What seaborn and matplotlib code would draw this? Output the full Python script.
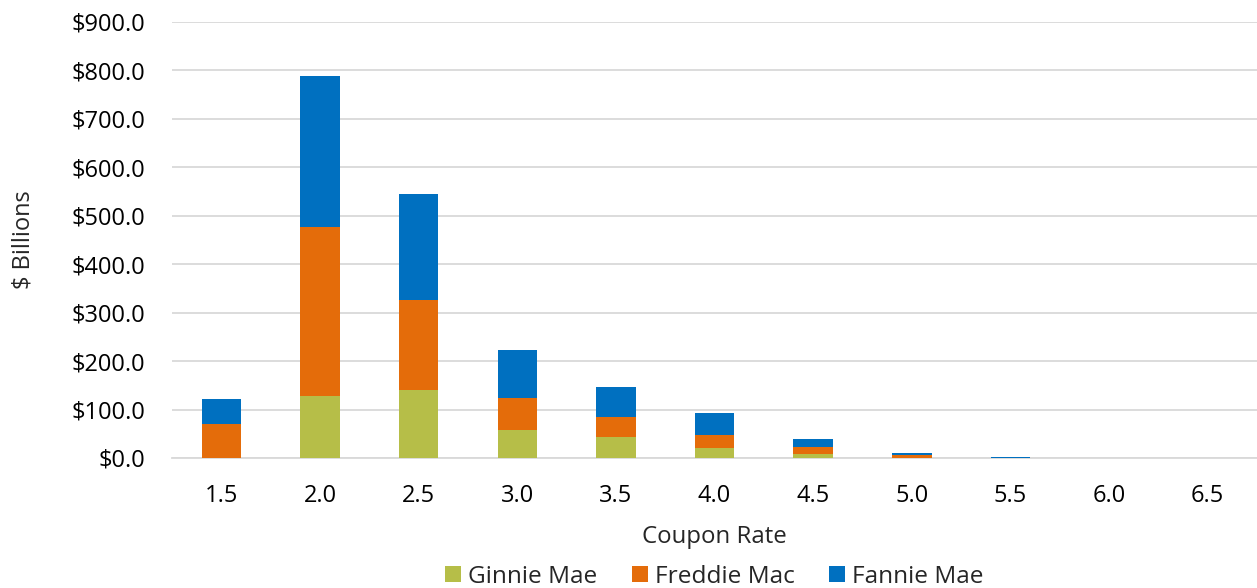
import matplotlib
matplotlib.use("Agg")
import matplotlib.pyplot as plt
import matplotlib.ticker as mticker
from matplotlib.patches import Patch
import seaborn as sns
import numpy as np

categories = ["1.5", "2.0", "2.5", "3.0", "3.5", "4.0", "4.5", "5.0", "5.5", "6.0", "6.5"]
ginnie_mae = [0.0, 129.0, 140.0, 58.0, 43.0, 21.0, 8.0, 1.0, 0.3, 0.1, 0.0]
freddie_mac = [70.0, 348.0, 187.0, 66.0, 41.0, 26.0, 14.0, 5.0, 0.3, 0.1, 0.0]
fannie_mae = [52.0, 312.0, 217.0, 98.0, 62.0, 45.0, 17.0, 4.0, 0.6, 0.2, 0.0]
series_names = ["Ginnie Mae", "Freddie Mac", "Fannie Mae"]
colors = ["#B6BE48", "#E46C0A", "#0070C0"]

sns.set_style("white")
plt.rcParams["font.family"] = ["Open Sans", "DejaVu Sans"]

W, H = 1257, 588
fig = plt.figure(figsize=(W / 100, H / 100), dpi=100)
ax = fig.add_axes([172 / W, 1 - 458 / H, 1 - 172 / W, (458 - 22) / H])

g = np.array(ginnie_mae)
f = np.array(freddie_mac)
n = np.array(fannie_mae)
stacks = [g + f + n, g + f, g]
stack_colors = [colors[2], colors[1], colors[0]]
for vals, c in zip(stacks, stack_colors):
    sns.barplot(x=categories, y=vals, order=categories, color=c, width=0.4,
                saturation=1, ax=ax, zorder=3, linewidth=0)

ax.set_ylim(0, 900)
ax.set_xlim(-0.5, len(categories) - 0.5)
ax.yaxis.set_major_locator(mticker.MultipleLocator(100))
ax.yaxis.set_major_formatter(mticker.FuncFormatter(lambda v, p: f"${v:,.1f}"))
ax.grid(axis="y", color="#d9d9d9", linewidth=1.3, zorder=0)
ax.set_axisbelow(True)
for s in ["top", "right", "left"]:
    ax.spines[s].set_visible(False)
ax.spines["bottom"].set_color("#d9d9d9")
ax.spines["bottom"].set_linewidth(1.3)
FS = 17
ax.tick_params(axis="y", length=0, labelsize=FS, pad=19, colors="black")
ax.tick_params(axis="x", which="major", length=0, labelsize=FS, pad=18.5, colors="black")
ax.set_xticks(np.arange(-0.5, len(categories) + 0.5, 1.0), minor=True)
ax.tick_params(axis="x", which="minor", length=8, color="#d9d9d9", width=1.3)

ax.set_xlabel("Coupon Rate", fontsize=17.3)
ax.set_ylabel("$ Billions", fontsize=17)
ax.xaxis.set_label_coords(0.5, (458 - 537) / 436)
ax.xaxis.label.set_va("center")
ax.yaxis.set_label_coords((24 - 172) / 1085, 0.5)
ax.yaxis.label.set_va("center")
ax.yaxis.label.set_ha("center")

handles = [Patch(facecolor=c, edgecolor="none") for c in colors]
fig.legend(handles, series_names, loc="center", bbox_to_anchor=(714.5 / W, 1 - 577 / H),
           ncol=3, frameon=False, fontsize=17.6, handlelength=0.64, handleheight=0.64,
           handletextpad=0.3, columnspacing=1.4, borderpad=0, borderaxespad=0)

fig.savefig("out.png", dpi=100)
